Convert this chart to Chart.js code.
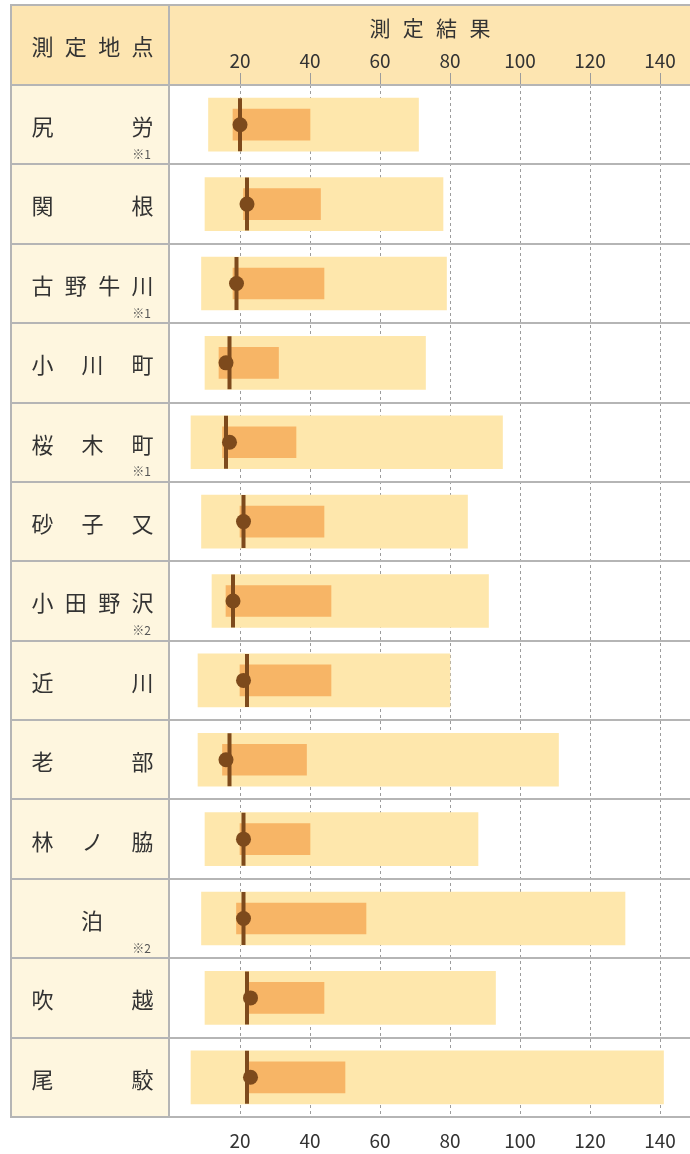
<!DOCTYPE html>
<html><head><meta charset="utf-8">
<script src="https://cdn.jsdelivr.net/npm/chart.js@4"></script>
<style>html,body{margin:0;padding:0;background:#fff;}canvas{display:block;}</style>
</head><body>
<canvas id="c" width="690" height="1154"></canvas>
<script>
const sites = ['尻労','関根','古野牛川','小川町','桜木町','砂子又','小田野沢','近川','老部','林ノ脇','泊','吹越','尾駮'];
const siteNotes = ['※1','','※1','','※1','','※2','','','','※2','',''];
const minValues = [11,10,9,10,6,9,12,8,8,10,9,10,6];
const maxValues = [71,78,79,73,95,85,91,80,111,88,130,93,141];
const q1Values = [18,21,18,14,15,20,16,20,15,20,19,22,22];
const q3Values = [40,43,44,31,36,44,46,46,39,40,56,44,50];
const medianValues = [20,22,19,17,16,21,18,22,17,21,21,22,22];
const meanValues = [20,22,19,16,17,21,18,21,16,21,21,23,23];
const xTickValues = [20,40,60,80,100,120,140];
const headerLeft = '測定地点';
const headerRight = '測定結果';

const BROWN = '#7d4a1c';
const LINE_GRAY = '#b5b5b5';
const TEXT = '#333333';
const FONT = '"Noto Sans CJK JP", "Noto Sans", sans-serif';
const X_MAX = 520 / 3.5;

function setTicks(s){ s.ticks = xTickValues.map(v => ({value: v})); }
function fitX(h){ return s => { s.height = h; s.paddingLeft = 0; s.paddingRight = 0; }; }

const tablePlugin = {
  id: 'table',
  beforeDraw(chart){
    const ctx = chart.ctx, ca = chart.chartArea;
    ctx.save();
    ctx.fillStyle = '#ffffff';
    ctx.fillRect(0,0,chart.width,chart.height);
    ctx.fillStyle = '#fde5b1';
    ctx.fillRect(12, 6, chart.width - 12, ca.top - 6);
    ctx.fillStyle = '#fef6df';
    ctx.fillRect(12, ca.top, ca.left - 13, ca.bottom - ca.top);
    ctx.restore();
  },
  afterDraw(chart){
    const ctx = chart.ctx, ca = chart.chartArea, y = chart.scales.y;
    const n = sites.length;
    const half = (y.getPixelForValue(1) - y.getPixelForValue(0)) / 2;
    ctx.save();
    ctx.strokeStyle = LINE_GRAY;
    ctx.lineWidth = 2;
    const hline = (yy, x0, x1) => { ctx.beginPath(); ctx.moveTo(x0, yy); ctx.lineTo(x1, yy); ctx.stroke(); };
    const vline = (xx, y0, y1) => { ctx.beginPath(); ctx.moveTo(xx, y0); ctx.lineTo(xx, y1); ctx.stroke(); };
    for (let i = 1; i < n; i++) hline(Math.round(y.getPixelForValue(i) - half), 12, chart.width);
    hline(ca.top, 12, chart.width);
    hline(ca.bottom, 10, chart.width);
    hline(5, 10, chart.width);
    vline(11, 4, ca.bottom + 1);
    vline(ca.left - 1, 5, ca.bottom);

    ctx.fillStyle = TEXT;
    ctx.textAlign = 'center';
    ctx.textBaseline = 'middle';
    const justify = (text, cy) => {
      const chars = Array.from(text);
      if (chars.length === 1) { ctx.fillText(chars[0], 92, cy); return; }
      const c0 = 42.5, c1 = 142.5;
      chars.forEach((ch, k) => ctx.fillText(ch, c0 + (c1 - c0) * k / (chars.length - 1), cy));
    };
    ctx.font = '22px ' + FONT;
    justify(headerLeft, 47);
    ctx.font = '21px ' + FONT;
    Array.from(headerRight).forEach((ch, k) => ctx.fillText(ch, (ca.left + ca.right) / 2 - 50 + k * 33.3, 28));
    ctx.font = '22px ' + FONT;
    sites.forEach((s, i) => justify(s, y.getPixelForValue(i) + 2));
    ctx.font = '12px ' + FONT;
    ctx.fillStyle = '#555555';
    ctx.textAlign = 'right';
    siteNotes.forEach((s, i) => { if (s) ctx.fillText(s, 151, y.getPixelForValue(i) + 29.5); });
    ctx.restore();
  }
};

new Chart(document.getElementById('c'), {
  data: {
    labels: sites,
    datasets: [
      { type: 'line', label: '平均', indexAxis: 'y', data: meanValues, showLine: false,
        pointRadius: 7.5, pointHoverRadius: 7.5, pointBackgroundColor: BROWN, pointBorderWidth: 0, order: 0 },
      { type: 'line', label: '中央値', indexAxis: 'y', data: medianValues, showLine: false,
        pointStyle: 'line', rotation: 90, pointRadius: 26.5, pointHoverRadius: 26.5,
        pointBorderColor: BROWN, borderColor: BROWN, pointBorderWidth: 4, order: 1 },
      { type: 'bar', label: '25-75%', indexAxis: 'y', data: q1Values.map((v, i) => [v, q3Values[i]]),
        backgroundColor: '#f7b566', barThickness: 31, grouped: false, order: 2 },
      { type: 'bar', label: '範囲', indexAxis: 'y', data: minValues.map((v, i) => [v, maxValues[i]]),
        backgroundColor: '#fee7ac', barThickness: 53, grouped: false, order: 3 }
    ]
  },
  options: {
    indexAxis: 'y',
    responsive: false,
    animation: false,
    devicePixelRatio: 1,
    layout: { autoPadding: false, padding: { left: 170, right: 0, top: 0, bottom: 0 } },
    plugins: { legend: { display: false }, tooltip: { enabled: false } },
    events: [],
    scales: {
      y: { type: 'category', display: false, offset: true },
      x: { type: 'linear', position: 'bottom', min: 0, max: X_MAX,
        afterBuildTicks: setTicks,
        afterFit: fitX(37),
        grid: { display: false, drawTicks: false }, border: { display: false },
        ticks: { font: { family: FONT, size: 19 }, color: TEXT, padding: 12 } },
      x2: { type: 'linear', position: 'top', min: 0, max: X_MAX,
        afterBuildTicks: setTicks,
        afterFit: fitX(85),
        grid: { color: '#9c9c9c', lineWidth: 1, tickLength: 12, tickColor: '#9c9c9c', tickWidth: 1, tickBorderDash: [] },
        border: { display: false, dash: [3, 3] },
        ticks: { font: { family: FONT, size: 19 }, color: TEXT, padding: 1 } }
    }
  },
  plugins: [tablePlugin]
});
</script>
</body></html>
